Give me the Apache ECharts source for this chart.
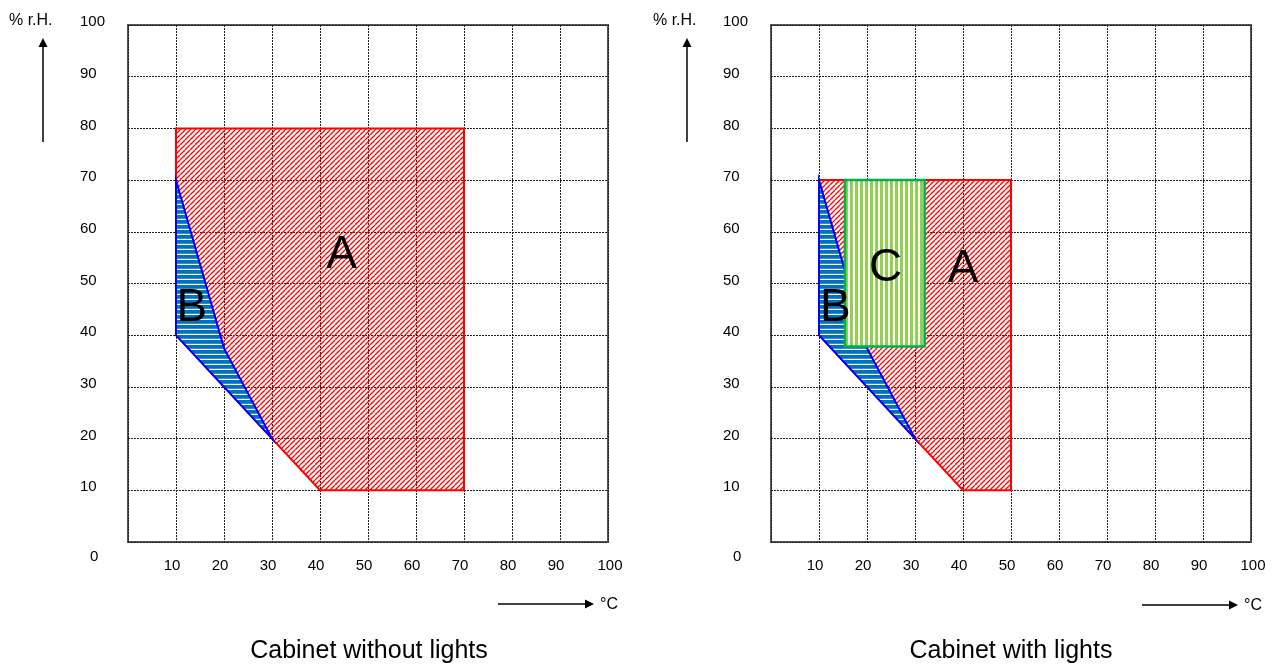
<!DOCTYPE html>
<html>
<head>
<meta charset="utf-8">
<script src="https://cdn.jsdelivr.net/npm/echarts@6/dist/echarts.min.js"></script>
<style>
html,body{margin:0;padding:0;background:#fff;}
#chart{width:1281px;height:664px;}
</style>
</head>
<body>
<div id="chart"></div>
<script>
// ---------- data ----------
const axisMin = 0, axisMax = 100, axisStep = 10;
const titles = ['Cabinet without lights', 'Cabinet with lights'];
const yUnit = '% r.H.';
const xUnit = '°C';

// left chart (without lights)
const leftA = [[10, 80], [70, 80], [70, 10], [40, 10], [30, 20], [10, 40]];
const leftB = [[10, 70], [20, 37.5], [30, 20], [10, 40]];
const leftLabels = [[44.5, 55.5, 'A'], [13.3, 45.2, 'B']];

// right chart (with lights)
const rightA = [[10, 70], [50, 70], [50, 10], [40, 10], [30, 20], [10, 40]];
const rightB = [[10, 70], [20, 37.5], [30, 20], [10, 40]];
const rightC = [[15.4, 37.8], [32, 37.8], [32, 70], [15.4, 70]];
const rightLabels = [[40, 52.8, 'A'], [13.4, 45.2, 'B'], [23.9, 52.9, 'C']];

// ---------- patterns ----------
function makeCanvas(w, h) { const c = document.createElement('canvas'); c.width = w; c.height = h; return c; }
function redHatch() {
  const s = 5, c = makeCanvas(s, s), ctx = c.getContext('2d');
  ctx.strokeStyle = '#ff0000'; ctx.lineWidth = 1.3;
  for (const k of [-s, 0, s]) { ctx.beginPath(); ctx.moveTo(k, s); ctx.lineTo(k + s, 0); ctx.stroke(); }
  return c;
}
function blueStripes() {
  const c = makeCanvas(4, 5), ctx = c.getContext('2d');
  ctx.fillStyle = '#0070c0'; ctx.fillRect(0, 0, 4, 5);
  ctx.fillStyle = '#ffffff'; ctx.fillRect(0, 3.8, 4, 1.2);
  return c;
}
function greenStripes() {
  const c = makeCanvas(5, 4), ctx = c.getContext('2d');
  ctx.fillStyle = '#ffffff'; ctx.fillRect(0, 0, 5, 4);
  ctx.fillStyle = '#92d050'; ctx.fillRect(0, 0, 3, 4);
  return c;
}
const patA = { image: redHatch(), repeat: 'repeat' };
const patB = { image: blueStripes(), repeat: 'repeat' };
const patC = { image: greenStripes(), repeat: 'repeat' };

const FONT = "'Liberation Sans', Arial, sans-serif";

function polySeries(idx, pts, fill, stroke, lw, z) {
  return {
    type: 'custom', xAxisIndex: idx, yAxisIndex: idx, data: [0], silent: true, z: z, clip: false,
    renderItem: function (params, api) {
      return {
        type: 'polygon',
        shape: { points: pts.map(p => api.coord(p)) },
        style: { fill: fill, stroke: stroke, lineWidth: lw, lineJoin: 'miter' }
      };
    }
  };
}
function labelSeries(idx, labels) {
  return {
    type: 'custom', xAxisIndex: idx, yAxisIndex: idx, data: labels.map((l, i) => i), silent: true, z: 10,
    renderItem: function (params, api) {
      const l = labels[params.dataIndex];
      const p = api.coord([l[0], l[1]]);
      return {
        type: 'text',
        style: { text: l[2], x: p[0], y: p[1], font: '46px ' + FONT, fill: '#000',
                 textAlign: 'center', textVerticalAlign: 'middle', align: 'center', verticalAlign: 'middle' }
      };
    }
  };
}

function xAxis(idx) {
  return {
    type: 'value', gridIndex: idx, min: axisMin, max: axisMax, interval: axisStep,
    axisLine: { show: false }, axisTick: { show: false },
    splitLine: { show: true, lineStyle: { color: '#222', width: 1, type: [2, 1] } },
    axisLabel: {
      margin: 16, color: '#000', fontSize: 15, fontFamily: FONT,
      formatter: v => v === 0 ? '' : (v === 100 ? '{h|100}' : '{n|' + v + '}'),
      rich: { n: { padding: [0, 8, 0, 0], fontSize: 15, fontFamily: FONT, color: '#000' },
              h: { padding: [0, 0, 0, 4], fontSize: 15, fontFamily: FONT, color: '#000' } }
    }
  };
}
function yAxis(idx) {
  return {
    type: 'value', gridIndex: idx, min: axisMin, max: axisMax, interval: axisStep,
    axisLine: { show: false }, axisTick: { show: false },
    splitLine: { show: true, lineStyle: { color: '#222', width: 1, type: [2, 1] } },
    axisLabel: {
      margin: 48, align: 'left', color: '#000', fontSize: 15, fontFamily: FONT,
      formatter: v => v === 0 ? '{z|0}' : '{n|' + v + '}',
      rich: { n: { padding: [0, 0, 6, 0], fontSize: 15, fontFamily: FONT, color: '#000' },
              z: { padding: [30, 0, 0, 10], fontSize: 15, fontFamily: FONT, color: '#000' } }
    }
  };
}

function arrowGraphics(yArrowX, xArrowStart, xArrowEnd, xArrowY, unitX, ylabelX) {
  return [
    { type: 'line', shape: { x1: yArrowX, y1: 142, x2: yArrowX, y2: 46 }, style: { stroke: '#000', lineWidth: 1.5 } },
    { type: 'polygon', shape: { points: [[yArrowX, 38], [yArrowX - 4.5, 47], [yArrowX + 4.5, 47]] }, style: { fill: '#000' } },
    { type: 'text', x: ylabelX, y: 21, style: { text: yUnit, font: '16px ' + FONT, fill: '#000', textVerticalAlign: 'middle', verticalAlign: 'middle' } },
    { type: 'line', shape: { x1: xArrowStart, y1: xArrowY, x2: xArrowEnd - 7, y2: xArrowY }, style: { stroke: '#000', lineWidth: 1.5 } },
    { type: 'polygon', shape: { points: [[xArrowEnd, xArrowY], [xArrowEnd - 9, xArrowY - 4.5], [xArrowEnd - 9, xArrowY + 4.5]] }, style: { fill: '#000' } },
    { type: 'text', x: unitX, y: xArrowY + 1, style: { text: xUnit, font: '16px ' + FONT, fill: '#000', textVerticalAlign: 'middle', verticalAlign: 'middle' } }
  ];
}

const chart = echarts.init(document.getElementById('chart'), null, { renderer: 'canvas' });
const option = {
  backgroundColor: '#fff',
  animation: false,
  grid: [
    { left: 128, top: 25, width: 480, height: 517, show: true, borderColor: '#555', borderWidth: 2, backgroundColor: 'transparent', containLabel: false },
    { left: 771, top: 25, width: 480, height: 517, show: true, borderColor: '#555', borderWidth: 2, backgroundColor: 'transparent', containLabel: false }
  ],
  xAxis: [xAxis(0), xAxis(1)],
  yAxis: [yAxis(0), yAxis(1)],
  series: [
    polySeries(0, leftA, patA, '#ff0000', 2, 2),
    polySeries(0, leftB, patB, '#0000ff', 2, 3),
    labelSeries(0, leftLabels),
    polySeries(1, rightA, patA, '#ff0000', 2, 2),
    polySeries(1, rightB, patB, '#0000ff', 2, 3),
    polySeries(1, rightC, patC, '#00b050', 2.5, 4),
    labelSeries(1, rightLabels)
  ],
  graphic: [].concat(
    arrowGraphics(43, 498, 594, 604, 600, 9),
    arrowGraphics(687, 1142, 1238, 605, 1244, 653),
    [
      { type: 'text', x: 369, y: 651, style: { text: titles[0], font: '25px ' + FONT, fill: '#000', textAlign: 'center', textVerticalAlign: 'middle', align: 'center', verticalAlign: 'middle' } },
      { type: 'text', x: 1011, y: 651, style: { text: titles[1], font: '25px ' + FONT, fill: '#000', textAlign: 'center', textVerticalAlign: 'middle', align: 'center', verticalAlign: 'middle' } }
    ]
  )
};
chart.setOption(option);
</script>
</body>
</html>
